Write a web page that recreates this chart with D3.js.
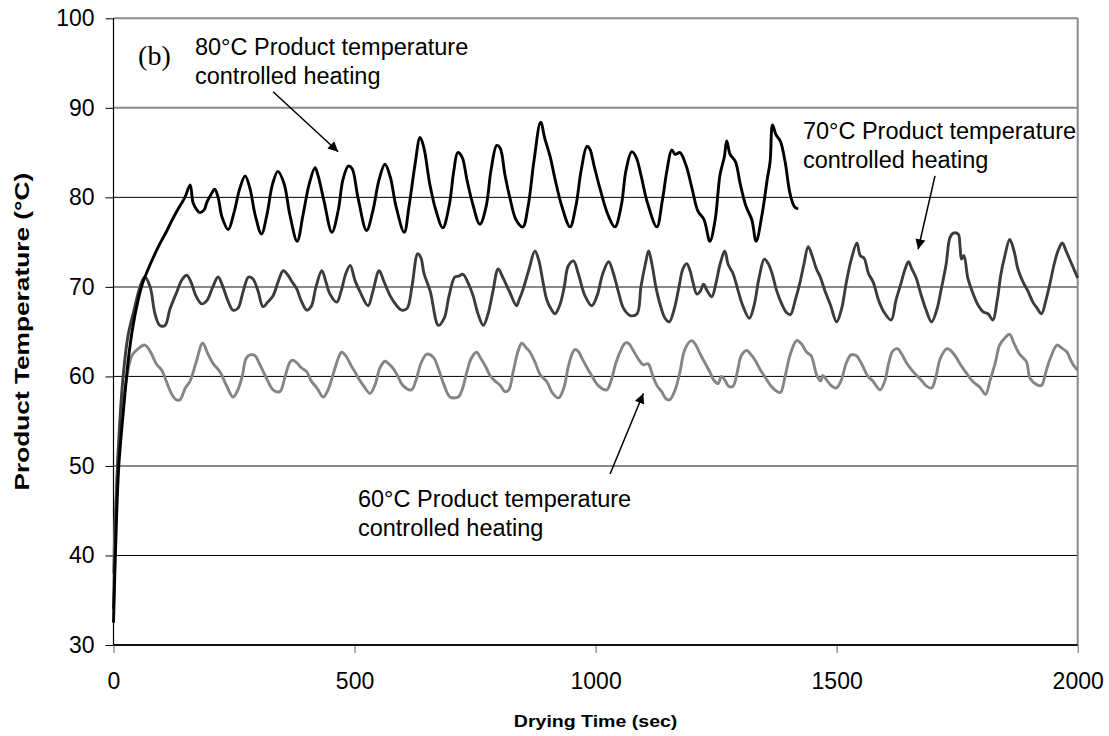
<!DOCTYPE html>
<html>
<head>
<meta charset="utf-8">
<script src="https://cdn.jsdelivr.net/npm/d3@7"></script>
<style>
  body { margin: 0; background: #fff; }
  text { font-family: "Liberation Sans", Arial, sans-serif; }
</style>
</head>
<body>
<div id="chart"></div>
<script>
var xTicks = [0, 500, 1000, 1500, 2000];
var yTicks = [30, 40, 50, 60, 70, 80, 90, 100];

// 80°C product temperature controlled heating
var time80 = [0, 5, 11, 22, 31, 40, 51, 61, 76, 96, 111, 121, 134, 144, 149, 159, 165, 173, 179, 188, 194, 202, 210, 217, 225, 238, 250, 262, 273, 283, 294, 307, 318, 330, 341, 354, 366, 381, 393, 406, 418, 424, 437, 453, 466, 476, 487, 495, 507, 525, 538, 551, 563, 574, 586, 603, 613, 625, 636, 644, 656, 669, 683, 696, 706, 714, 723, 733, 744, 760, 773, 783, 795, 802, 812, 822, 835, 849, 860, 872, 886, 895, 906, 916, 930, 947, 959, 970, 982, 988, 997, 1009, 1026, 1040, 1053, 1063, 1075, 1084, 1094, 1107, 1127, 1138, 1148, 1158, 1165, 1175, 1188, 1200, 1212, 1225, 1237, 1248, 1258, 1267, 1272, 1279, 1290, 1300, 1312, 1324, 1333, 1345, 1356, 1362, 1367, 1374, 1383, 1393, 1403, 1412, 1420];
var temp80 = [32.5, 42, 50, 57, 62, 65.5, 68.5, 70.5, 72.5, 74.8, 76.3, 77.4, 78.7, 79.6, 80.1, 81.4, 79.4, 78.6, 78.3, 78.6, 79.5, 80.3, 80.9, 80, 77.8, 76.4, 78.3, 81, 82.4, 81, 78, 75.9, 78, 81.5, 82.9, 81.5, 78, 75.1, 78, 81.5, 83.3, 82.5, 79.5, 76.1, 78.5, 82, 83.5, 83.2, 80, 76.3, 78.5, 82, 83.7, 82.3, 79, 76.1, 79, 83.5, 86.7, 85.5, 81.5, 78.5, 76.6, 79, 83, 85, 84.5, 82, 79.5, 77, 79, 83, 85.8, 85.5, 82.5, 80, 77.5, 76.7, 79, 84, 88.4, 86.5, 84.5, 82, 79, 76.7, 79, 83, 85.7, 85.4, 83.5, 81, 78, 76.7, 79, 83, 85.1, 84.5, 82.5, 79.5, 76.7, 79.5, 83, 85.3, 84.8, 85, 83.5, 81, 78.5, 77.5, 75.1, 77.5, 82.5, 84.5, 86.3, 84.8, 84, 81.5, 79, 77.5, 75.1, 78, 82, 84, 88.1, 87, 86.3, 84, 80.5, 79, 78.7];

// 70°C product temperature controlled heating
var time70 = [0, 5, 11, 20, 30, 43, 55, 65, 76, 86, 96, 107, 117, 131, 142, 152, 161, 171, 183, 194, 206, 217, 227, 237, 248, 258, 269, 280, 289, 300, 310, 320, 331, 341, 352, 362, 370, 380, 389, 401, 410, 420, 432, 441, 449, 463, 472, 482, 491, 501, 511, 528, 538, 551, 561, 574, 586, 598, 609, 619, 631, 638, 644, 657, 674, 686, 696, 708, 716, 725, 735, 746, 756, 767, 777, 787, 798, 808, 822, 836, 841, 850, 862, 874, 882, 891, 899, 908, 916, 926, 935, 943, 954, 964, 978, 992, 1003, 1015, 1027, 1037, 1047, 1058, 1072, 1086, 1094, 1103, 1110, 1117, 1125, 1134, 1144, 1153, 1163, 1173, 1181, 1189, 1196, 1202, 1210, 1217, 1224, 1231, 1241, 1250, 1258, 1268, 1275, 1285, 1296, 1306, 1319, 1329, 1339, 1350, 1358, 1366, 1376, 1387, 1395, 1404, 1414, 1424, 1432, 1441, 1449, 1458, 1466, 1476, 1487, 1500, 1510, 1520, 1530, 1542, 1549, 1557, 1566, 1576, 1587, 1598, 1613, 1623, 1634, 1642, 1649, 1656, 1665, 1673, 1685, 1697, 1708, 1716, 1727, 1735, 1742, 1752, 1756, 1759, 1764, 1772, 1781, 1793, 1804, 1814, 1824, 1833, 1841, 1849, 1859, 1868, 1876, 1887, 1897, 1907, 1916, 1925, 1934, 1943, 1951, 1959, 1968, 1976, 1984, 1992, 2000];
var temp70 = [34, 45, 53, 60, 64.5, 67.5, 70, 71.1, 70, 67, 65.7, 65.7, 67.5, 69.4, 70.8, 71.3, 70.5, 69, 68.1, 68.5, 70, 71.1, 70, 68.5, 67.4, 67.6, 69.5, 71.1, 70.9, 69.5, 67.8, 68.3, 69, 70.5, 71.8, 71.3, 70.6, 69.8, 68.5, 67.4, 67.8, 70, 71.8, 70.5, 69.2, 68.3, 69.5, 71.5, 72.4, 70.7, 69.5, 67.9, 69.5, 71.8, 70.6, 69, 68, 67.4, 67.6, 70, 73.7, 73.2, 71.5, 69.5, 65.7, 66.5, 69, 71.1, 71.2, 71.4, 70.5, 69, 67, 65.7, 67, 69.5, 72, 71, 69.4, 67.9, 68.5, 69.8, 72, 74, 73, 70.5, 68.5, 67.5, 67, 68, 70, 72.3, 72.9, 71.5, 69, 67.9, 69, 71.5, 72.8, 71.5, 69.5, 67.6, 66.8, 67, 70, 72.5, 74, 72.5, 70, 68, 66.5, 66.1, 67.5, 70, 72, 72.6, 71.8, 70.5, 69.2, 69.5, 70.3, 69.6, 68.9, 70.5, 72.5, 74, 72.5, 71.5, 69.5, 67.8, 66.5, 68, 71, 73.1, 72.6, 71.5, 69.5, 68, 67.2, 66.9, 68.5, 70.5, 72.5, 74.5, 73.5, 72, 71.1, 69.5, 68, 66.1, 67.5, 70.5, 73, 74.9, 73.5, 73.2, 71.5, 70.5, 68.5, 67.2, 66.3, 68.5, 70.5, 72, 72.8, 72, 71, 69.5, 67.5, 66.1, 67.5, 69.5, 72.5, 75.5, 76, 75.9, 74.5, 73.1, 73.5, 71, 69.5, 68, 67.2, 67, 66.3, 68.5, 71.5, 73.5, 75.3, 74, 72, 70.5, 69.5, 68.3, 67.6, 67, 68.5, 70.5, 72.5, 74, 74.9, 74, 73, 72, 71];

// 60°C product temperature controlled heating
var time60 = [0, 5, 11, 20, 28, 38, 49, 65, 76, 90, 100, 110, 121, 130, 138, 149, 159, 171, 185, 196, 207, 221, 235, 248, 258, 267, 275, 283, 294, 302, 311, 320, 331, 345, 356, 366, 372, 381, 389, 401, 410, 422, 435, 445, 457, 466, 473, 482, 493, 501, 509, 518, 532, 542, 553, 563, 571, 580, 590, 600, 618, 627, 638, 650, 664, 673, 686, 698, 715, 723, 733, 742, 753, 762, 773, 781, 791, 802, 812, 820, 829, 839, 847, 856, 864, 875, 885, 899, 910, 923, 934, 943, 951, 957, 964, 972, 982, 993, 1005, 1023, 1032, 1042, 1053, 1061, 1068, 1077, 1088, 1099, 1109, 1119, 1127, 1137, 1146, 1154, 1165, 1175, 1185, 1199, 1208, 1217, 1227, 1237, 1245, 1254, 1261, 1269, 1276, 1285, 1294, 1302, 1313, 1320, 1331, 1341, 1353, 1366, 1383, 1393, 1404, 1417, 1426, 1438, 1447, 1459, 1467, 1471, 1478, 1488, 1499, 1509, 1520, 1530, 1541, 1551, 1565, 1575, 1590, 1600, 1608, 1616, 1626, 1635, 1645, 1656, 1666, 1677, 1687, 1697, 1706, 1715, 1729, 1736, 1747, 1757, 1770, 1783, 1797, 1809, 1818, 1829, 1838, 1849, 1859, 1867, 1878, 1888, 1894, 1901, 1909, 1918, 1925, 1934, 1943, 1957, 1966, 1978, 1984, 1992, 2000];
var temp60 = [38, 46, 52, 57, 60, 62.3, 63, 63.5, 62.8, 61.3, 60.7, 59.4, 58, 57.4, 57.4, 58.7, 59.5, 61.5, 63.7, 62.5, 61.4, 60.5, 58.9, 57.7, 58.5, 60, 62, 62.4, 62.3, 61.5, 60.5, 59.5, 58.5, 58.3, 60, 61.6, 61.8, 61.5, 61, 60.5, 59.5, 58.7, 57.7, 58.5, 60.5, 62, 62.7, 62.3, 61.2, 60.5, 59.7, 59, 58.1, 59, 61, 61.7, 61.4, 60.9, 60, 59, 58.5, 59.5, 61.5, 62.5, 62.1, 61, 59, 57.7, 57.7, 58.5, 60.5, 62, 62.7, 62, 61, 60.1, 59.5, 59, 58.3, 58.5, 60.5, 62.8, 63.7, 63.2, 62.7, 61.5, 60.2, 59.4, 58.2, 57.6, 58.7, 61, 62.5, 63, 62.8, 62, 61, 60, 59, 58.5, 59.5, 61.5, 63, 63.7, 63.7, 63, 62, 61.3, 61.4, 60, 59, 58.3, 57.5, 57.4, 58.5, 60.5, 63, 64, 63.5, 62.5, 61.5, 60.5, 59.6, 59.2, 60, 59.5, 58.9, 58.9, 60.5, 62.3, 62.9, 62.6, 61.8, 60.8, 59.8, 58.8, 58.2, 60, 62.5, 64, 63.7, 62.7, 62.3, 60.1, 59.5, 60.1, 59.7, 59, 58.7, 59.5, 61.5, 62.4, 62.3, 61.5, 60, 59.5, 58.5, 59.5, 61.5, 62.8, 63.1, 62.5, 61.5, 60.7, 60.1, 59.5, 58.9, 58.7, 60, 62, 63.1, 62.9, 62.2, 61.3, 60.3, 59.4, 58.8, 58, 59.5, 61.5, 63.5, 64.3, 64.7, 63.8, 62.6, 62, 61.6, 59.8, 59.3, 59, 59, 60.5, 62, 63.5, 63.2, 62.7, 62, 61.2, 60.7];

// annotation texts and arrows, in data units (sec, °C)
var labelLines = [
  ["80°C Product temperature", "controlled heating"],
  ["70°C Product temperature", "controlled heating"],
  ["60°C Product temperature", "controlled heating"]
];
var labelTime = [169, 1430, 507];
var labelTemp = [95.9, 86.5, 45.4];
var arrowFrom = [[331, 91.8], [1704, 82.4], [1030, 49.1]];
var arrowTo = [[466, 85.1], [1669, 74.2], [1099, 58.1]];

var svgWidth = 1109;
var svgHeight = 736;
var margin = { top: 18.3, right: 31.3, bottom: 91, left: 113.5 };
var width = svgWidth - margin.left - margin.right;
var height = svgHeight - margin.top - margin.bottom;

var svg = d3.select("#chart")
  .append("svg")
  .attr("width", svgWidth)
  .attr("height", svgHeight);

var defs = svg.append("defs");
defs.append("marker")
  .attr("id", "head")
  .attr("markerUnits", "userSpaceOnUse")
  .attr("viewBox", "0 0 10 10")
  .attr("refX", 10)
  .attr("refY", 5)
  .attr("markerWidth", 12)
  .attr("markerHeight", 10)
  .attr("orient", "auto")
  .append("path")
  .attr("d", "M0,0 L10,5 L0,10 Z")
  .attr("fill", "#000");

var chartGroup = svg.append("g")
  .attr("transform", `translate(${margin.left}, ${margin.top})`);

var x = d3.scaleLinear().domain([0, 2000]).range([0, width]);
var y = d3.scaleLinear().domain([30, 100]).range([height, 0]);

// gridlines (the picture shows alternating dark / grey lines)
chartGroup.selectAll(".grid")
  .data(yTicks.filter(d => d > 30))
  .enter()
  .append("line")
  .attr("x1", 0)
  .attr("x2", width)
  .attr("y1", d => y(d))
  .attr("y2", d => y(d))
  .attr("stroke", d => (d / 10) % 2 === 0 && d < 100 ? "#000" : "#8a8a8a")
  .attr("stroke-width", d => (d / 10) % 2 === 0 && d < 100 ? 1 : 2);

// right border
chartGroup.append("line")
  .attr("x1", width).attr("x2", width)
  .attr("y1", 0).attr("y2", height)
  .attr("stroke", "#8a8a8a")
  .attr("stroke-width", 2);

var leftAxis = d3.axisLeft(y).tickValues(yTicks).tickSize(8).tickPadding(11);
var bottomAxis = d3.axisBottom(x).tickValues(xTicks).tickSize(8).tickPadding(20)
  .tickFormat(d3.format("d"));

var gy = chartGroup.append("g").call(leftAxis);
var gx = chartGroup.append("g")
  .attr("transform", `translate(0, ${height})`)
  .call(bottomAxis);

[gx, gy].forEach(g => {
  g.select(".domain").remove();
  g.selectAll("text")
    .attr("font-size", 23)
    .attr("fill", "#000");
});
gy.selectAll("line").attr("stroke", "#000");
gx.selectAll("line").attr("stroke", "#666");

chartGroup.append("line")
  .attr("x1", 0).attr("x2", 0)
  .attr("y1", 0).attr("y2", height)
  .attr("stroke", "#000")
  .attr("stroke-width", 1.2);
chartGroup.append("line")
  .attr("x1", 0).attr("x2", width)
  .attr("y1", height).attr("y2", height)
  .attr("stroke", "#111")
  .attr("stroke-width", 2);

// series
var line = d3.line()
  .x(d => x(d[0]))
  .y(d => y(d[1]))
  .curve(d3.curveCatmullRom.alpha(0.5));

var series = [
  { t: time60, v: temp60, color: "#858585" },
  { t: time70, v: temp70, color: "#3c3c3c" },
  { t: time80, v: temp80, color: "#000000" }
];

series.forEach(s => {
  chartGroup.append("path")
    .datum(s.t.map((t, i) => [t, s.v[i]]))
    .attr("d", line)
    .attr("fill", "none")
    .attr("stroke", s.color)
    .attr("stroke-width", 2.9)
    .attr("stroke-linejoin", "round");
});

// annotations
labelLines.forEach((lines, i) => {
  var t = chartGroup.append("text")
    .attr("x", x(labelTime[i]))
    .attr("y", y(labelTemp[i]))
    .attr("font-size", 23.5)
    .attr("fill", "#000");
  lines.forEach((l, j) => {
    t.append("tspan")
      .attr("x", x(labelTime[i]))
      .attr("dy", j === 0 ? 0 : 28.5)
      .text(l);
  });
});

arrowFrom.forEach((a, i) => {
  chartGroup.append("line")
    .attr("x1", x(a[0]))
    .attr("y1", y(a[1]))
    .attr("x2", x(arrowTo[i][0]))
    .attr("y2", y(arrowTo[i][1]))
    .attr("stroke", "#000")
    .attr("stroke-width", 1.5)
    .attr("marker-end", "url(#head)");
});

chartGroup.append("text")
  .attr("x", x(51))
  .attr("y", y(94.8))
  .style("font-family", "'Liberation Serif', 'Times New Roman', serif")
  .attr("font-size", 28)
  .text("(b)");

// axis titles
svg.append("text")
  .attr("transform", `translate(28.5, ${margin.top + height / 2}) rotate(-90) scale(1.25, 1)`)
  .attr("text-anchor", "middle")
  .attr("font-weight", "bold")
  .attr("font-size", 21)
  .text("Product Temperature (°C)");

svg.append("text")
  .attr("transform", `translate(${margin.left + width / 2}, 727) scale(1.15, 1)`)
  .attr("text-anchor", "middle")
  .attr("font-weight", "bold")
  .attr("font-size", 17)
  .text("Drying Time (sec)");
</script>
</body>
</html>
